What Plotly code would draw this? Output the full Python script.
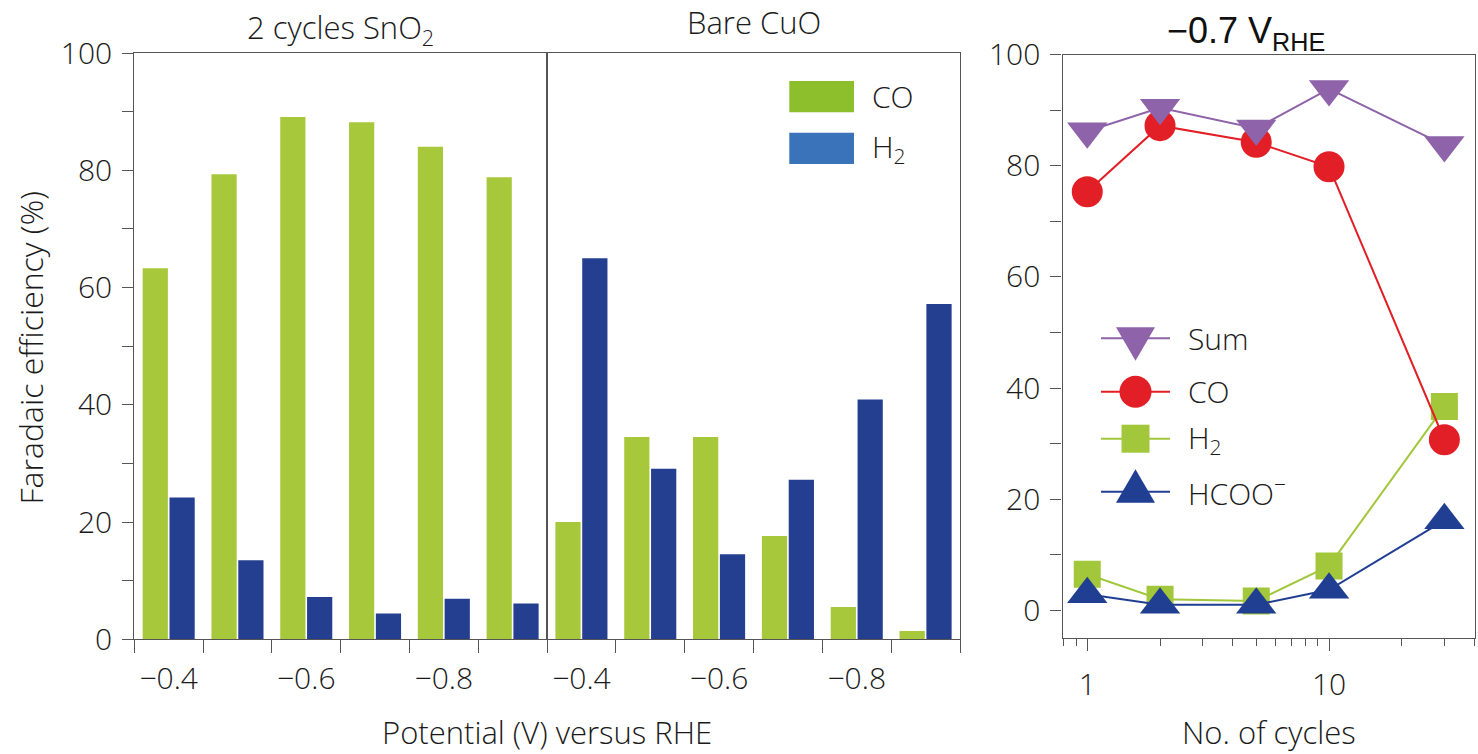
import plotly.graph_objects as go

# ---------------- data ----------------
potentials = [-0.4, -0.5, -0.6, -0.7, -0.8, -0.9]
potential_tickvals = [-0.4, -0.6, -0.8]
potential_ticktext = ["\u22120.4", "\u22120.6", "\u22120.8"]
potential_bounds = [-0.35, -0.45, -0.55, -0.65, -0.75, -0.85, -0.95]

sno2_co = [63.3, 79.3, 89.1, 88.2, 84.0, 78.8]
sno2_h2 = [24.2, 13.5, 7.2, 4.4, 6.9, 6.1]

cuo_co = [20.0, 34.5, 34.5, 17.6, 5.5, 1.4]
cuo_h2 = [65.0, 29.1, 14.5, 27.2, 40.9, 57.2]

cycles = [1, 2, 5, 10, 30]
fe_sum = [86.2, 90.4, 86.7, 93.8, 83.7]
fe_co = [75.3, 87.2, 84.2, 79.8, 30.7]
fe_h2 = [6.5, 2.0, 1.7, 8.0, 36.7]
fe_hcoo = [2.9, 1.0, 1.0, 3.7, 16.2]

y_ticks = [0, 20, 40, 60, 80, 100]
y_minor = [10, 30, 50, 70, 90]
cyc_ticks = [1, 10]
cyc_minor = [0.8, 0.9, 2, 3, 4, 5, 6, 7, 8, 9, 20, 30, 40]

# ---------------- style ----------------
W, H = 1478, 754
FONT = "Open Sans"
TXT = "#1a1a1a"
AX = "#555555"
BAR_CO = "#A8C83B"
BAR_H2 = "#243F8F"
LEG_CO = "#8DBE2B"
LEG_H2 = "#3A73B9"
C_SUM = "#8E63A9"
C_CO = "#E21F26"
C_H2 = "#A2C73B"
C_HCOO = "#213F92"


def px(x):
    return x / W


def py(y):
    return 1 - y / H


fig = go.Figure()

# The potential axis is reversed (−0.4 on the left), so the H2 trace is added
# first: grouped offsets then put CO on the left and H2 on the right of each pair.
for xa, co, h2 in [("x", sno2_co, sno2_h2), ("x2", cuo_co, cuo_h2)]:
    fig.add_trace(go.Bar(x=potentials, y=h2, marker=dict(color=BAR_H2, line=dict(width=0)),
                         xaxis=xa, yaxis="y", name="H2", showlegend=False))
    fig.add_trace(go.Bar(x=potentials, y=co, marker=dict(color=BAR_CO, line=dict(width=0)),
                         xaxis=xa, yaxis="y", name="CO", showlegend=False))

# lines: right panel
fig.add_trace(go.Scatter(x=cycles, y=fe_h2, mode="lines+markers", xaxis="x3", yaxis="y3",
                         line=dict(color=C_H2, width=2),
                         marker=dict(symbol="square", size=27, color=C_H2), showlegend=False, name="H2"))
fig.add_trace(go.Scatter(x=cycles, y=fe_hcoo, mode="lines+markers", xaxis="x3", yaxis="y3",
                         line=dict(color=C_HCOO, width=2),
                         marker=dict(symbol="triangle-up", size=35, color=C_HCOO), showlegend=False, name="HCOO"))
fig.add_trace(go.Scatter(x=cycles, y=fe_co, mode="lines+markers", xaxis="x3", yaxis="y3",
                         line=dict(color=C_CO, width=2),
                         marker=dict(symbol="circle", size=31, color=C_CO), showlegend=False, name="CO"))
fig.add_trace(go.Scatter(x=cycles, y=fe_sum, mode="lines+markers", xaxis="x3", yaxis="y3",
                         line=dict(color=C_SUM, width=2),
                         marker=dict(symbol="triangle-down", size=35, color=C_SUM), showlegend=False, name="Sum"))

tickfont = dict(family=FONT, size=30, color=TXT, weight=300)

pot_axis = dict(type="linear", range=[potential_bounds[0], potential_bounds[-1]],
                tickmode="array", tickvals=potential_tickvals, ticktext=potential_ticktext,
                ticks="",
                minor=dict(tickmode="array", tickvals=potential_bounds, ticks="outside",
                           ticklen=13, tickwidth=1.3, tickcolor=AX, showgrid=False),
                showline=True, linecolor=AX, linewidth=1.3, mirror=True,
                showgrid=False, zeroline=False, tickfont=tickfont, anchor="y",
                ticklabelstandoff=13, fixedrange=True, automargin=False)

fig.update_layout(
    width=W, height=H, margin=dict(l=0, r=0, t=0, b=0, pad=0, autoexpand=False),
    paper_bgcolor="white", plot_bgcolor="white",
    barmode="group", bargap=0.22, bargroupgap=0.06,
    showlegend=False,
    xaxis=dict(pot_axis, domain=[px(134.3), px(547)]),
    xaxis2=dict(pot_axis, domain=[px(547), px(960)]),
    yaxis=dict(domain=[py(639.3), py(53)], range=[0, 100], anchor="x", automargin=False,
               tickvals=y_ticks, ticks="outside", ticklen=11, tickwidth=1.3, tickcolor=AX,
               minor=dict(tickvals=y_minor, ticks="outside", ticklen=11, tickwidth=1.3, tickcolor=AX),
               showline=True, linecolor=AX, linewidth=1.3, mirror=True,
               showgrid=False, zeroline=False, tickfont=tickfont, ticklabelstandoff=4),
    yaxis2=dict(domain=[py(639.3), py(53)], range=[0, 100], anchor="x2", overlaying="y",
                automargin=False,
                showticklabels=False, ticks="", showline=True, linecolor=AX, linewidth=1.3,
                mirror=True, showgrid=False, zeroline=False),
    xaxis3=dict(type="log", domain=[px(1062.5), px(1474.6)], automargin=False,
                range=[-0.1024, 1.6021], anchor="y3",
                tickvals=cyc_ticks, ticktext=[str(v) for v in cyc_ticks],
                ticks="outside", ticklen=12, tickwidth=1.3, tickcolor=AX,
                minor=dict(tickvals=cyc_minor, ticks="outside", ticklen=7, tickwidth=1.3, tickcolor=AX),
                showline=True, linecolor=AX, linewidth=1.3, mirror=True,
                showgrid=False, zeroline=False, tickfont=tickfont, ticklabelstandoff=8),
    yaxis3=dict(domain=[py(638.2), py(54.5)], range=[-5, 100], anchor="x3", automargin=False,
                tickvals=y_ticks, ticks="outside", ticklen=11, tickwidth=1.3, tickcolor=AX,
                minor=dict(tickvals=y_minor, ticks="outside", ticklen=11, tickwidth=1.3, tickcolor=AX),
                showline=True, linecolor=AX, linewidth=1.3, mirror=True,
                showgrid=False, zeroline=False, tickfont=tickfont, ticklabelstandoff=4),
)

# an invisible trace so yaxis2 (right frame line of the bar panel) is rendered
fig.add_trace(go.Scatter(x=[potentials[0]], y=[None], xaxis="x2", yaxis="y2",
                         showlegend=False, hoverinfo="skip"))

shapes = []
annotations = []
leg_font = dict(family=FONT, size=30, color=TXT, weight=300)

# left legend (bars)
for (label, col, y0, y1) in [("CO", LEG_CO, 81, 112.3), ("H<sub>2</sub>", LEG_H2, 132.7, 164)]:
    shapes.append(dict(type="rect", xref="paper", yref="paper", x0=px(789.3), x1=px(854),
                       y0=py(y1), y1=py(y0), fillcolor=col, line=dict(width=0)))
    annotations.append(dict(text=label, x=px(870), y=py((y0 + y1) / 2), xref="paper", yref="paper",
                            xanchor="left", yanchor="middle", showarrow=False, font=leg_font))

# right legend (lines + markers)
leg_rows = [("Sum", C_SUM, "tdown", 338.3),
            ("CO", C_CO, "circle", 391.8),
            ("H<sub>2</sub>", C_H2, "square", 438.7),
            ("HCOO<sup>\u2212</sup>", C_HCOO, "tup", 491.8)]
cx = 1135.5
for (label, col, sym, yy) in leg_rows:
    shapes.append(dict(type="line", xref="paper", yref="paper", x0=px(1101), x1=px(1170),
                       y0=py(yy), y1=py(yy), line=dict(color=col, width=2)))
    base = dict(xref="paper", yref="paper", xsizemode="pixel", ysizemode="pixel",
                xanchor=px(cx), yanchor=py(yy), fillcolor=col, line=dict(width=0))
    if sym == "circle":
        shapes.append(dict(base, type="circle", x0=-16, x1=16, y0=-16, y1=16))
    elif sym == "square":
        shapes.append(dict(base, type="rect", x0=-14, x1=14, y0=-14, y1=14))
    elif sym == "tdown":
        shapes.append(dict(base, type="path", path="M-19.5,11 L19.5,11 L0,-22.5 Z"))
    else:
        shapes.append(dict(base, type="path", path="M-19.5,-11 L19.5,-11 L0,22.5 Z"))
    annotations.append(dict(text=label, x=px(1186), y=py(yy), xref="paper", yref="paper",
                            xanchor="left", yanchor="middle", showarrow=False, font=leg_font))

# titles
title_font = dict(family=FONT, size=31, color=TXT, weight=300)
annotations += [
    dict(text="2 cycles SnO<sub>2</sub>", x=px(340.5), y=py(29), xref="paper", yref="paper",
         xanchor="center", yanchor="middle", showarrow=False, font=title_font),
    dict(text="Bare CuO", x=px(753.5), y=py(22), xref="paper", yref="paper",
         xanchor="center", yanchor="middle", showarrow=False, font=title_font),
    dict(text="\u22120.7 V<sub>RHE</sub>", x=px(1246), y=py(33), xref="paper", yref="paper",
         xanchor="center", yanchor="middle", showarrow=False,
         font=dict(family="Liberation Sans", size=36, color="#111111")),
    dict(text="Faradaic efficiency (%)", x=px(30), y=py(347.5), xref="paper", yref="paper",
         xanchor="center", yanchor="middle", textangle=-90, showarrow=False,
         font=dict(family=FONT, size=32, color=TXT, weight=300)),
    dict(text="Potential (V) versus RHE", x=px(547), y=0, xref="paper", yref="paper",
         xanchor="center", yanchor="bottom", borderpad=0, showarrow=False, font=title_font),
    dict(text="No. of cycles", x=px(1269), y=0, xref="paper", yref="paper",
         xanchor="center", yanchor="bottom", borderpad=0, showarrow=False, font=title_font),
]

fig.update_layout(shapes=shapes, annotations=annotations)
fig.write_html("out.html")
